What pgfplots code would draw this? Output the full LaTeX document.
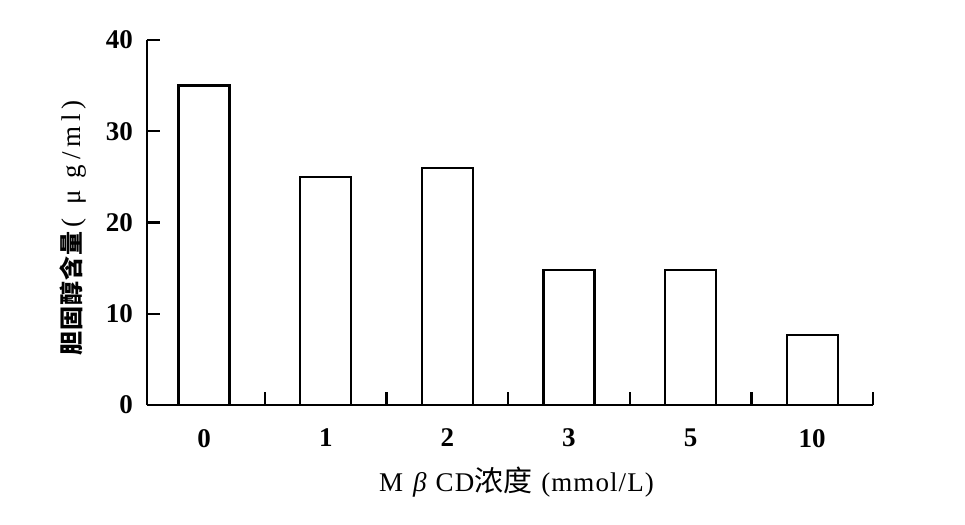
\documentclass[border=0pt]{standalone}
\usepackage{fontspec}
\setmainfont{Liberation Serif}
\newfontfamily\cjk{Noto Sans CJK SC}
\usepackage{pgfplots}
\pgfplotsset{compat=1.18}

\begin{document}
\begin{tikzpicture}[font=\fontsize{13}{15}\selectfont]
  \useasboundingbox (-73.5pt,-60pt) rectangle (409pt,202.5pt);
  \begin{axis}[
    at={(0,0)}, anchor=south west,
    scale only axis, width=363pt, height=182.5pt,
    axis x line*=bottom, axis y line*=left,
    axis line style={line width=1.2pt},
    every tick/.style={line width=1.2pt,black},
    tick align=inside,
    xmin=-0.47, xmax=5.5, ymin=0, ymax=40,
    % boundary ticks between the categories
    xtick={0.5,1.5,2.5,3.5,4.5,5.5}, xticklabels={},
    x tick style={yshift=6.5pt},
    % category names at the bar centres
    extra x ticks={0,1,2,3,4,5},
    extra x tick labels={0,1,2,3,5,10},
    extra x tick style={major tick length=0pt},
    major tick length=6.5pt,
    ytick={0,10,20,30,40},
    /pgf/number format/assume math mode=true,
    ticklabel style={font=\fontsize{13.5}{15}\selectfont\bfseries},
    yticklabel style={xshift=-3.5pt},
    xticklabel style={yshift=-8.5pt},
    xlabel={\addfontfeature{LetterSpace=4}M\hspace{5pt}\textit{β}\hspace{4pt}CD{\cjk\fontsize{14.5}{16}\selectfont 浓度}\hspace{4.5pt}(mmol/L)},
    xlabel style={at={(rel axis cs:0.509,0)},anchor=center,yshift=-38.5pt,
                  font=\fontsize{13.5}{15}\selectfont},
    ylabel={{\cjk\bfseries\fontsize{12}{13}\selectfont 胆\kern0.5pt 固\kern0.5pt 醇\kern0.5pt 含\kern0.5pt 量}\hspace{2pt}{\addfontfeature{LetterSpace=18}(\hspace{7pt}μ\hspace{6pt}g/ml)}},
    ylabel style={at={(axis description cs:-0.102,0.485)},anchor=center,
                  font=\fontsize{13.5}{15}\selectfont},
    ybar, bar width=25.5pt,
  ]
    \addplot[draw=black,fill=white,line width=1.2pt]
      coordinates {(0,35) (1,25) (2,26) (3,14.8) (4,14.8) (5,7.7)};
  \end{axis}
\end{tikzpicture}
\end{document}
